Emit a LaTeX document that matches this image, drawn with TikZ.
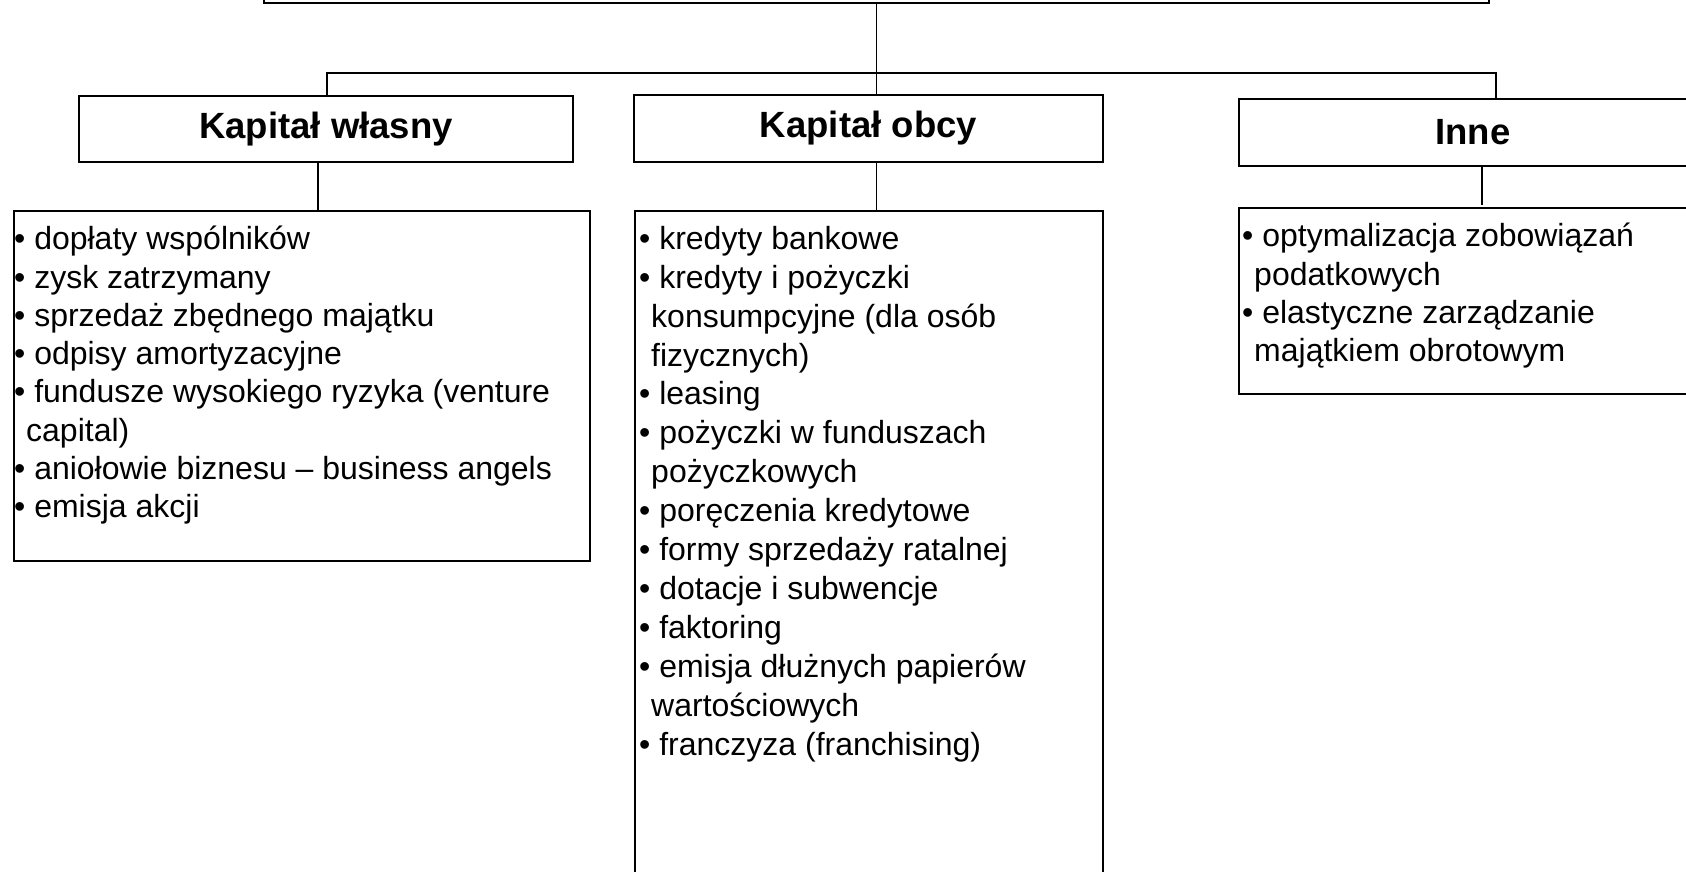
\documentclass[tikz,border=0pt]{standalone}
\usepackage{fontspec}
\setmainfont{Liberation Sans}
\begin{document}
\begin{tikzpicture}[x=1pt,y=-1pt,
  hdr/.style={draw, line width=2.4pt, inner sep=0pt, font=\bfseries\fontsize{36.5}{40}\selectfont},
  lstbox/.style={draw, line width=1.8pt, inner sep=0pt},
  txt/.style={anchor=north west, inner sep=0pt, align=left},
  con/.style={line width=1.8pt}]
\useasboundingbox (0,0) rectangle (1686,872);
\clip (0,0) rectangle (1686,872);
% top box (only its lower part is visible)
\node[draw, line width=2.8pt, minimum width=1225pt, minimum height=100pt, inner sep=0pt] (top) at (876.5,-47) {};
% headers
\node[hdr, minimum width=494pt, minimum height=66pt] (h1) at (326,129) {Kapitał własny};
\node[hdr, minimum width=469pt, minimum height=67pt] (h2) at (868.5,128.5) {Kapitał obcy};
\node[hdr, minimum width=468pt, minimum height=67pt] (h3) at (1473,132.5) {Inne};
% list boxes
\node[lstbox, minimum width=576pt, minimum height=350pt] (l1) at (302,386) {};
\node[lstbox, minimum width=468pt, minimum height=739pt] (l2) at (869,580.5) {};
\node[lstbox, minimum width=521pt, minimum height=186pt] (l3) at (1499.5,301) {};
% list texts
\node[txt, font=\fontsize{32}{38.3}\selectfont] (t1) at (14,226) {• dopłaty wspólników\\
• zysk zatrzymany\\
• sprzedaż zbędnego majątku\\
• odpisy amortyzacyjne\\
• fundusze wysokiego ryzyka (venture\\
\hspace*{12pt}capital)\\
• aniołowie biznesu – business angels\\
• emisja akcji};
\node[txt, font=\fontsize{32}{38.9}\selectfont] (t2) at (639,226) {• kredyty bankowe\\
• kredyty i pożyczki\\
\hspace*{12pt}konsumpcyjne (dla osób\\
\hspace*{12pt}fizycznych)\\
• leasing\\
• pożyczki w funduszach\\
\hspace*{12pt}pożyczkowych\\
• poręczenia kredytowe\\
• formy sprzedaży ratalnej\\
• dotacje i subwencje\\
• faktoring\\
• emisja dłużnych papierów\\
\hspace*{12pt}wartościowych\\
• franczyza (franchising)};
\node[txt, font=\fontsize{32}{38.4}\selectfont] (t3) at (1242,223) {• optymalizacja zobowiązań\\
\hspace*{12pt}podatkowych\\
• elastyczne zarządzanie\\
\hspace*{12pt}majątkiem obrotowym};
% connectors
\coordinate (busL) at (327,73);
\coordinate (busR) at (1496,73);
\draw[con] (top.south) -- (top.south |- h2.north);
\draw[con] (busL |- h1.north) -- (busL) -- (busR) -- (busR |- h3.north);
\draw[con] ([xshift=-8pt]h1.south) -- ([xshift=-8pt]h1.south |- l1.north);
\draw[con] (top.south |- h2.south) -- (top.south |- l2.north);
\draw[con] ([xshift=9pt]h3.south) -- ([xshift=9pt,yshift=2pt]h3.south |- l3.north);
\end{tikzpicture}
\end{document}
